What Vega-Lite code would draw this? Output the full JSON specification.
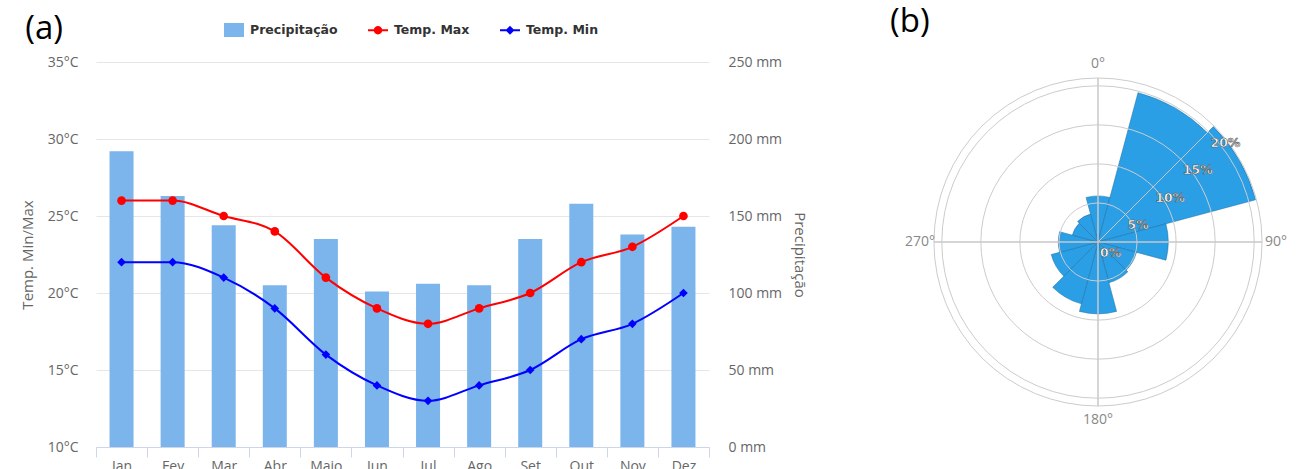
{
  "$schema": "https://vega.github.io/schema/vega-lite/v6.json",
  "background": "white",
  "padding": {"left": 20, "top": 6, "right": 0, "bottom": 0},
  "spacing": 82,
  "config": {"view": {"stroke": null}},
  "datasets": {
    "clima": [
      {"mes": "Jan", "serie": "Precipitação", "valor": 192},
      {"mes": "Fev", "serie": "Precipitação", "valor": 163},
      {"mes": "Mar", "serie": "Precipitação", "valor": 144},
      {"mes": "Abr", "serie": "Precipitação", "valor": 105},
      {"mes": "Maio", "serie": "Precipitação", "valor": 135},
      {"mes": "Jun", "serie": "Precipitação", "valor": 101},
      {"mes": "Jul", "serie": "Precipitação", "valor": 106},
      {"mes": "Ago", "serie": "Precipitação", "valor": 105},
      {"mes": "Set", "serie": "Precipitação", "valor": 135},
      {"mes": "Out", "serie": "Precipitação", "valor": 158},
      {"mes": "Nov", "serie": "Precipitação", "valor": 138},
      {"mes": "Dez", "serie": "Precipitação", "valor": 143},
      {"mes": "Jan", "serie": "Temp. Max", "valor": 26},
      {"mes": "Fev", "serie": "Temp. Max", "valor": 26},
      {"mes": "Mar", "serie": "Temp. Max", "valor": 25},
      {"mes": "Abr", "serie": "Temp. Max", "valor": 24},
      {"mes": "Maio", "serie": "Temp. Max", "valor": 21},
      {"mes": "Jun", "serie": "Temp. Max", "valor": 19},
      {"mes": "Jul", "serie": "Temp. Max", "valor": 18},
      {"mes": "Ago", "serie": "Temp. Max", "valor": 19},
      {"mes": "Set", "serie": "Temp. Max", "valor": 20},
      {"mes": "Out", "serie": "Temp. Max", "valor": 22},
      {"mes": "Nov", "serie": "Temp. Max", "valor": 23},
      {"mes": "Dez", "serie": "Temp. Max", "valor": 25},
      {"mes": "Jan", "serie": "Temp. Min", "valor": 22},
      {"mes": "Fev", "serie": "Temp. Min", "valor": 22},
      {"mes": "Mar", "serie": "Temp. Min", "valor": 21},
      {"mes": "Abr", "serie": "Temp. Min", "valor": 19},
      {"mes": "Maio", "serie": "Temp. Min", "valor": 16},
      {"mes": "Jun", "serie": "Temp. Min", "valor": 14},
      {"mes": "Jul", "serie": "Temp. Min", "valor": 13},
      {"mes": "Ago", "serie": "Temp. Min", "valor": 14},
      {"mes": "Set", "serie": "Temp. Min", "valor": 15},
      {"mes": "Out", "serie": "Temp. Min", "valor": 17},
      {"mes": "Nov", "serie": "Temp. Min", "valor": 18},
      {"mes": "Dez", "serie": "Temp. Min", "valor": 20}
    ],
    "vento": [
      {"direcao": 0, "de": -15, "ate": 15, "pct": 5.9},
      {"direcao": 30, "de": 15, "ate": 45, "pct": 19.8},
      {"direcao": 60, "de": 45, "ate": 75, "pct": 20.9},
      {"direcao": 90, "de": 75, "ate": 105, "pct": 9.0},
      {"direcao": 120, "de": 105, "ate": 135, "pct": 5.1},
      {"direcao": 150, "de": 135, "ate": 165, "pct": 5.4},
      {"direcao": 180, "de": 165, "ate": 195, "pct": 9.2},
      {"direcao": 210, "de": 195, "ate": 225, "pct": 8.2},
      {"direcao": 240, "de": 225, "ate": 255, "pct": 6.2},
      {"direcao": 270, "de": 255, "ate": 285, "pct": 5.1},
      {"direcao": 300, "de": 285, "ate": 315, "pct": 3.4},
      {"direcao": 330, "de": 315, "ate": 345, "pct": 3.7}
    ],
    "aneis": [
      {"anel": 5}, {"anel": 10}, {"anel": 15}, {"anel": 20}, {"anel": 21}
    ],
    "raios": [
      {"angulo": 0, "alcance": 21},
      {"angulo": 90, "alcance": 21},
      {"angulo": 180, "alcance": 21},
      {"angulo": 270, "alcance": 21},
      {"angulo": 45, "alcance": 20}
    ],
    "rotulosAngulo": [
      {"angulo": 0, "rotulo": "0°"},
      {"angulo": 90, "rotulo": "90°"},
      {"angulo": 180, "rotulo": "180°"},
      {"angulo": 270, "rotulo": "270°"}
    ],
    "rotulosPct": [
      {"pct": 0, "rotulo": "0%"},
      {"pct": 5, "rotulo": "5%"},
      {"pct": 10, "rotulo": "10%"},
      {"pct": 15, "rotulo": "15%"},
      {"pct": 20, "rotulo": "20%"}
    ]
  },
  "hconcat": [
    {
      "width": 613,
      "height": 385,
      "title": {"text": "(a)", "anchor": "start", "frame": "bounds", "font": "Open Sans", "fontSize": 33, "fontWeight": "normal", "color": "#000000", "offset": 9, "dx": 5},
      "data": {"name": "clima"},
      "encoding": {
        "x": {
          "field": "mes", "type": "nominal", "sort": null,
          "scale": {"paddingInner": 0, "paddingOuter": 0},
          "axis": {"title": null, "labelAngle": 0, "domainColor": "#ccd6eb", "tickColor": "#ccd6eb", "tickSize": 10, "tickBand": "extent", "labelPadding": 2, "labelFont": "Open Sans", "labelFontSize": 14, "labelColor": "#666666", "grid": false}
        },
        "color": {
          "field": "serie", "type": "nominal",
          "scale": {"domain": ["Precipitação", "Temp. Max", "Temp. Min"], "range": ["#7cb5ec", "#ff0000", "#0000ff"]},
          "legend": {
            "title": null, "orient": "none", "direction": "horizontal", "legendX": 128, "legendY": -42,
            "padding": 0, "symbolSize": 400, "labelOffset": 6, "columnPadding": 30,
            "labelFont": "DejaVu Sans", "labelFontSize": 12.5, "labelFontWeight": "bold", "labelColor": "#333333",
            "encode": {
              "symbols": {
                "update": {
                  "shape": {"signal": "datum.value === 'Precipitação' ? 'M-1,-0.7H1V0.7H-1Z' : datum.value === 'Temp. Max' ? 'M-1,-0.1H1V0.1H-1Z M0.42,0A0.42,0.42 0 1,1 -0.42,0A0.42,0.42 0 1,1 0.42,0Z' : 'M-1,-0.1H1V0.1H-1Z M0,-0.45L0.45,0L0,0.45L-0.45,0Z'"},
                  "fill": {"signal": "datum.value === 'Precipitação' ? '#7cb5ec' : datum.value === 'Temp. Max' ? '#ff0000' : '#0000ff'"},
                  "stroke": {"value": "transparent"},
                  "strokeWidth": {"value": 0},
                  "opacity": {"value": 1}
                }
              }
            }
          }
        }
      },
      "layer": [
        {
          "transform": [{"filter": "datum.serie === 'Precipitação'"}],
          "mark": {"type": "bar", "width": {"band": 0.47}},
          "encoding": {
            "y": {
              "field": "valor", "type": "quantitative",
              "scale": {"domain": [0, 250], "nice": false},
              "axis": {"orient": "right", "values": [0, 50, 100, 150, 200, 250], "labelExpr": "datum.value + ' mm'", "grid": false, "domain": false, "ticks": false, "labelPadding": 19, "labelFont": "Open Sans", "labelFontSize": 14, "labelColor": "#666666", "title": "Precipitação", "titleFont": "Open Sans", "titleFontSize": 15, "titleFontWeight": "normal", "titleColor": "#666666", "titlePadding": 10}
            }
          }
        },
        {
          "transform": [{"filter": "datum.serie !== 'Precipitação'"}],
          "encoding": {
            "y": {
              "field": "valor", "type": "quantitative",
              "scale": {"domain": [10, 35], "nice": false, "zero": false},
              "axis": {"orient": "left", "values": [10, 15, 20, 25, 30, 35], "labelExpr": "datum.value + '°C'", "grid": true, "gridColor": "#e6e6e6", "domain": false, "ticks": false, "labelPadding": 18, "labelFont": "Open Sans", "labelFontSize": 14, "labelColor": "#666666", "title": "Temp. Min/Max", "titleFont": "Open Sans", "titleFontSize": 15, "titleFontWeight": "normal", "titleColor": "#666666", "titlePadding": 12}
            }
          },
          "layer": [
            {"mark": {"type": "line", "interpolate": "monotone", "strokeWidth": 2}},
            {
              "mark": {"type": "point", "filled": true, "opacity": 1},
              "encoding": {
                "shape": {"field": "serie", "type": "nominal", "scale": {"domain": ["Temp. Max", "Temp. Min"], "range": ["circle", "diamond"]}, "legend": null},
                "size": {"value": 75}
              }
            }
          ]
        }
      ],
      "resolve": {"scale": {"y": "independent"}}
    },
    {
      "width": 360,
      "height": 360,
      "title": {"text": "(b)", "anchor": "start", "frame": "bounds", "font": "Open Sans", "fontSize": 33, "fontWeight": "normal", "color": "#000000", "offset": 18, "dx": -15},
      "layer": [
        {
          "data": {"name": "vento"},
          "mark": {"type": "arc", "fill": "#2a9fe6", "stroke": "#1d6a9e", "strokeWidth": 0.5},
          "encoding": {
            "theta": {"field": "de", "type": "quantitative", "stack": null, "scale": {"domain": [0, 360], "range": [0, 6.2832]}},
            "theta2": {"field": "ate"},
            "radius": {"field": "pct", "type": "quantitative", "stack": null, "scale": {"type": "linear", "domain": [0, 21], "range": [0, 164], "zero": true}}
          }
        },
        {
          "data": {"name": "aneis"},
          "mark": {"type": "arc", "theta": 0, "theta2": 6.2832, "fill": null, "stroke": "#cccccc", "strokeWidth": 1},
          "encoding": {
            "radius": {"field": "anel", "type": "quantitative", "stack": null, "scale": {"type": "linear", "domain": [0, 21], "range": [0, 164], "zero": true}}
          }
        },
        {
          "data": {"name": "raios"},
          "mark": {"type": "arc", "fill": null, "stroke": "#c8c8c8", "strokeWidth": 1},
          "encoding": {
            "theta": {"field": "angulo", "type": "quantitative", "stack": null, "scale": {"domain": [0, 360], "range": [0, 6.2832]}},
            "theta2": {"field": "angulo"},
            "radius": {"field": "alcance", "type": "quantitative", "stack": null, "scale": {"type": "linear", "domain": [0, 21], "range": [0, 164], "zero": true}}
          }
        },
        {
          "data": {"name": "rotulosAngulo"},
          "mark": {"type": "text", "font": "Open Sans", "fontSize": 14, "color": "#888888", "align": "center", "baseline": "middle"},
          "encoding": {
            "theta": {"field": "angulo", "type": "quantitative", "stack": null, "scale": {"domain": [0, 360], "range": [0, 6.2832]}},
            "radius": {"value": 178},
            "text": {"field": "rotulo"}
          }
        },
        {
          "data": {"name": "rotulosPct"},
          "mark": {"type": "text", "theta": 0.7854, "font": "DejaVu Sans", "fontSize": 12.5, "fontWeight": "bold", "fill": "#ffffff", "stroke": "#555555", "strokeWidth": 0.6, "align": "left", "baseline": "middle", "dx": 2, "dy": 11},
          "encoding": {
            "radius": {"field": "pct", "type": "quantitative", "stack": null, "scale": {"type": "linear", "domain": [0, 21], "range": [0, 164], "zero": true}},
            "text": {"field": "rotulo"}
          }
        }
      ]
    }
  ]
}
